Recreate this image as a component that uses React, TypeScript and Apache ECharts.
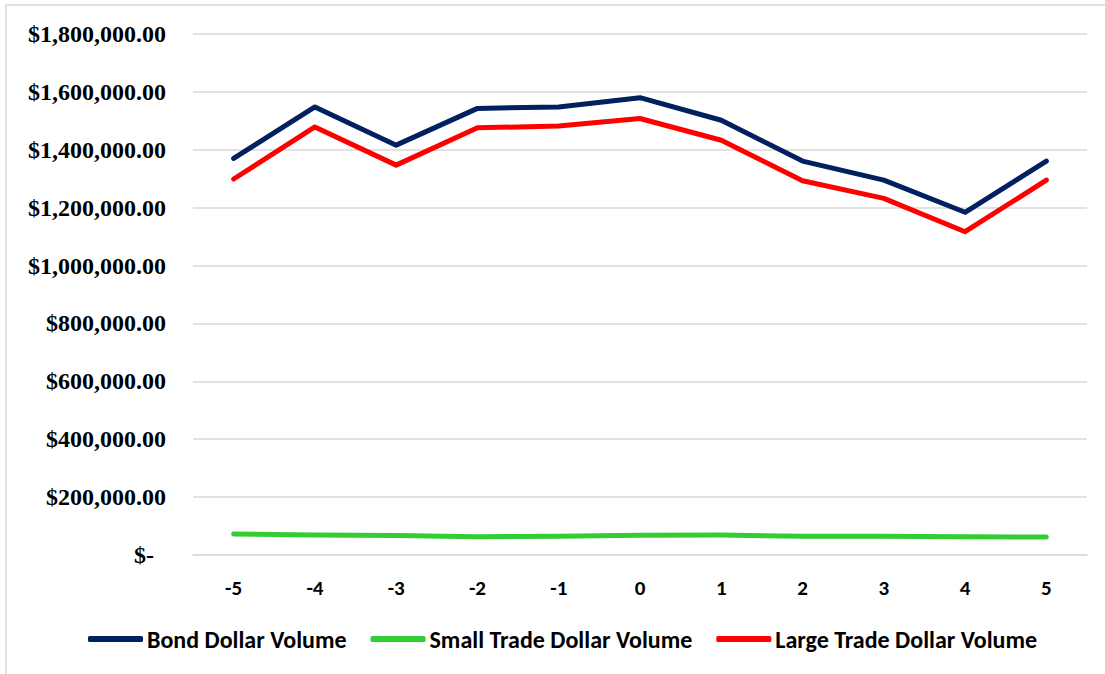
import React, { useEffect, useRef } from "react";
import * as echarts from "echarts";

const categories = ["-5", "-4", "-3", "-2", "-1", "0", "1", "2", "3", "4", "5"];
const bondVolume = [1370000, 1548000, 1416000, 1543000, 1548000, 1580000, 1502000, 1361000, 1295000, 1184000, 1361000];
const smallVolume = [72500, 69000, 67000, 63000, 64500, 68000, 69000, 64500, 64500, 63000, 62000];
const largeVolume = [1299000, 1479000, 1347000, 1476000, 1482000, 1508000, 1433000, 1293000, 1232000, 1117000, 1295000];
const seriesNames = ["Bond Dollar Volume", "Small Trade Dollar Volume", "Large Trade Dollar Volume"];
const seriesColors = ["#002060", "#33CC33", "#FF0000"];

const sansBold = "Carlito, Lato, Noto Sans, sans-serif";
const serifBold = "Liberation Serif, serif";

function fmtMoney(v: number): string {
  if (v === 0) return "{z|$-}";
  return "{a|$" + v.toLocaleString("en-US", { minimumFractionDigits: 2, maximumFractionDigits: 2 }) + "}";
}

export default function App() {
  const ref = useRef<HTMLDivElement>(null);
  useEffect(() => {
    if (!ref.current) return;
    const chart = echarts.init(ref.current, undefined, { renderer: "svg" });
    const data = [bondVolume, smallVolume, largeVolume];
    chart.setOption({
      animation: false,
      backgroundColor: "#ffffff",
      graphic: [
        {
          type: "rect",
          shape: { x: 6, y: 5, width: 1200, height: 800 },
          style: { fill: "none", stroke: "#d9d9d9", lineWidth: 1.5 },
          silent: true,
        },
      ],
      grid: { left: 193, right: 18, top: 34, bottom: 119, containLabel: false },
      legend: {
        left: 83,
        top: 622,
        icon: "roundRect",
        itemWidth: 55,
        itemHeight: 6,
        itemGap: 24,
        data: seriesNames,
        textStyle: { fontFamily: sansBold, fontWeight: "bold", fontSize: 24, color: "#000", padding: [0, 0, 0, -1] },
      },
      xAxis: {
        type: "category",
        data: categories,
        boundaryGap: true,
        axisLine: { show: true, lineStyle: { color: "#d9d9d9", width: 1.5 } },
        axisTick: { show: false },
        axisLabel: { fontFamily: sansBold, fontWeight: "bold", fontSize: 21, color: "#000", margin: 22 },
      },
      yAxis: {
        type: "value",
        min: 0,
        max: 1800000,
        interval: 200000,
        axisLine: { show: false },
        axisTick: { show: false },
        splitLine: { lineStyle: { color: "#d9d9d9", width: 1.5 } },
        axisLabel: {
          formatter: fmtMoney,
          fontFamily: serifBold,
          fontWeight: "bold",
          fontSize: 24,
          color: "#000",
          margin: 27,
          rich: {
            a: { fontFamily: serifBold, fontWeight: "bold", fontSize: 24, color: "#000" },
            z: { fontFamily: serifBold, fontWeight: "bold", fontSize: 24, color: "#000", padding: [0, 12, 0, 0] },
          },
        },
      },
      series: seriesNames.map((name, i) => ({
        name,
        type: "line",
        data: data[i],
        symbol: "none",
        lineStyle: { color: seriesColors[i], width: 5, cap: "round", join: "round" },
        itemStyle: { color: seriesColors[i] },
      })),
    });
    return () => chart.dispose();
  }, []);
  return <div ref={ref} style={{ position: "absolute", left: 0, top: 0, width: 1105, height: 674 }} />;
}
